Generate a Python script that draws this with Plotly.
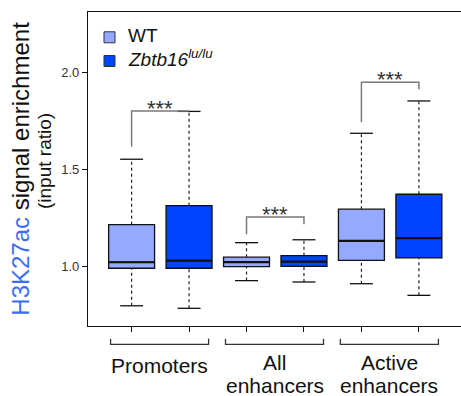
import plotly.graph_objects as go

# ---------------- data ----------------
groups = ["Promoters", "All", "Active"]
group_line2 = ["", "enhancers", "enhancers"]
genotypes = ["WT", "<i>Zbtb16<sup>lu/lu</sup></i>"]

wt_lo = [0.796, 0.926, 0.910]
wt_q1 = [0.990, 0.998, 1.031]
wt_med = [1.021, 1.022, 1.131]
wt_q3 = [1.215, 1.047, 1.295]
wt_hi = [1.553, 1.122, 1.687]

ko_lo = [0.783, 0.919, 0.850]
ko_q1 = [0.990, 1.000, 1.043]
ko_med = [1.029, 1.024, 1.146]
ko_q3 = [1.313, 1.055, 1.372]
ko_hi = [1.800, 1.137, 1.854]

# significance brackets: left leg bottom, bar height, right leg bottom
sig_left = [1.617, 1.165, 1.744]
sig_bar = [1.802, 1.255, 1.951]
sig_right = [1.802, 1.217, 1.915]
sig_text = ["***", "***", "***"]
sig_text_y = [1.815, 1.266, 1.966]

y_tick_vals = [1.0, 1.5, 2.0]
y_tick_text = ["1.0", "1.5", "2.0"]

# ---------------- style ----------------
FONT = "Liberation Sans, Arial, Helvetica, sans-serif"
WT_COLOR = "#94A9FF"
KO_COLOR = "#0044FF"
TITLE_BLUE = "#3D6DF5"
W, H = 461, 396
ML, MR, MT, MB = 88, 0, 12, 70
PW, PH = W - ML - MR, H - MT - MB


def px_x(p):
    return (p - ML) / PW


def px_y(p):
    return (H - MB - p) / PH


fig = go.Figure()

series = [
    (genotypes[0], WT_COLOR, wt_lo, wt_q1, wt_med, wt_q3, wt_hi, 0),
    (genotypes[1], KO_COLOR, ko_lo, ko_q1, ko_med, ko_q3, ko_hi, 1),
]

BOX_W = 0.8
CAP_HALF = 0.2

for name, col, lo, q1, med, q3, hi, off in series:
    xs = [2 * i + off for i in range(len(groups))]
    # dashed whiskers
    wx, wy = [], []
    for x, a, b, c, d in zip(xs, lo, q1, q3, hi):
        wx += [x, x, None, x, x, None]
        wy += [a, b, None, c, d, None]
    fig.add_trace(go.Scatter(x=wx, y=wy, mode="lines", showlegend=False,
                             line=dict(color="#222222", width=1.2, dash="3px,3px"),
                             hoverinfo="skip"))
    # caps
    cx, cy = [], []
    for x, a, d in zip(xs, lo, hi):
        cx += [x - CAP_HALF, x + CAP_HALF, None, x - CAP_HALF, x + CAP_HALF, None]
        cy += [a, a, None, d, d, None]
    fig.add_trace(go.Scatter(x=cx, y=cy, mode="lines", showlegend=False,
                             line=dict(color="#111111", width=1.3),
                             hoverinfo="skip"))
    # boxes
    fig.add_trace(go.Box(
        x=xs, q1=q1, median=med, q3=q3, lowerfence=q1, upperfence=q3,
        width=BOX_W, whiskerwidth=0, fillcolor=col,
        line=dict(color="#111111", width=1.3), name=name, showlegend=False,
        boxpoints=False,
    ))
    # thicker medians
    mx, my = [], []
    for x, m in zip(xs, med):
        mx += [x - BOX_W / 2, x + BOX_W / 2, None]
        my += [m, m, None]
    fig.add_trace(go.Scatter(x=mx, y=my, mode="lines", showlegend=False,
                             line=dict(color="#111111", width=2.2),
                             hoverinfo="skip"))

# significance brackets
for i in range(len(groups)):
    x0, x1 = 2 * i, 2 * i + 1
    fig.add_trace(go.Scatter(
        x=[x0, x0, x1, x1], y=[sig_left[i], sig_bar[i], sig_bar[i], sig_right[i]],
        mode="lines", showlegend=False, line=dict(color="#7A7A7A", width=1.5),
        hoverinfo="skip"))
    fig.add_annotation(x=(x0 + x1) / 2, y=sig_text_y[i], text=sig_text[i],
                       showarrow=False, xanchor="center", yanchor="middle",
                       font=dict(family=FONT, size=22, color="#333333"))

annotations = []
shapes = []

# group brackets and labels below the axis
y_bar = px_y(344.3)
y_leg = px_y(338.7)
for i in range(len(groups)):
    c = 2 * i + 0.5 - 0.013
    x0, x1 = c - 0.853, c + 0.853
    shapes.append(dict(type="path", xref="x", yref="paper",
                       path=f"M {x0},{y_leg} L {x0},{y_bar} L {x1},{y_bar} L {x1},{y_leg}",
                       line=dict(color="#333333", width=1.3)))
    if group_line2[i]:
        annotations.append(dict(x=c, y=px_y(362.7), xref="x", yref="paper",
                                text=groups[i], showarrow=False,
                                xanchor="center", yanchor="middle",
                                font=dict(family=FONT, size=21, color="#111111")))
        annotations.append(dict(x=c, y=px_y(385.4), xref="x", yref="paper",
                                text=group_line2[i], showarrow=False,
                                xanchor="center", yanchor="middle",
                                font=dict(family=FONT, size=21, color="#111111")))
    else:
        annotations.append(dict(x=c, y=px_y(365.4), xref="x", yref="paper",
                                text=groups[i], showarrow=False,
                                xanchor="center", yanchor="middle",
                                font=dict(family=FONT, size=21, color="#111111")))

# y-axis titles
annotations.append(dict(x=px_x(19.7), y=px_y(169), xref="paper", yref="paper",
                        text=f"<span style='color:{TITLE_BLUE}'>H3K27ac</span> signal enrichment",
                        textangle=-90, showarrow=False, xanchor="center", yanchor="middle",
                        font=dict(family=FONT, size=24, color="#111111")))
annotations.append(dict(x=px_x(44), y=px_y(161), xref="paper", yref="paper",
                        text="(input ratio)",
                        textangle=-90, showarrow=False, xanchor="center", yanchor="middle",
                        font=dict(family=FONT, size=19, color="#111111")))

# legend (manual)
leg_rows = [(37.3, WT_COLOR, genotypes[0]), (61.0, KO_COLOR, genotypes[1])]
for cy, col, label in leg_rows:
    shapes.append(dict(type="rect", xref="paper", yref="paper",
                       x0=px_x(104), x1=px_x(115), y0=px_y(cy - 5.5), y1=px_y(cy + 5.5),
                       fillcolor=col, line=dict(color="#333333", width=1)))
    annotations.append(dict(x=px_x(126), y=px_y(cy + 10.5), xref="paper", yref="paper",
                            text=label, showarrow=False, xanchor="left", yanchor="bottom",
                            font=dict(family=FONT, size=19, color="#111111")))

fig.update_layout(
    width=W, height=H,
    margin=dict(l=ML, r=MR, t=MT, b=MB, pad=0),
    paper_bgcolor="white", plot_bgcolor="white",
    boxmode="overlay",
    showlegend=False,
    annotations=list(fig.layout.annotations) + annotations,
    shapes=shapes,
    xaxis=dict(range=[-0.759, 5.733], tickvals=list(range(6)),
               showticklabels=False,
               ticks="outside", ticklen=5, tickwidth=1.2, tickcolor="#111111",
               showline=True, linecolor="#111111", linewidth=1.3, mirror=True,
               showgrid=False, zeroline=False, fixedrange=True),
    yaxis=dict(range=[0.6916, 2.3135], tickvals=y_tick_vals, ticktext=y_tick_text,
               ticks="outside", ticklen=5, tickwidth=1.2, tickcolor="#111111",
               tickfont=dict(family=FONT, size=13, color="#333333"),
               showline=True, linecolor="#111111", linewidth=1.3, mirror=False,
               showgrid=False, zeroline=False, fixedrange=True),
)

fig.write_html("out.html", config={"displayModeBar": False},
               post_script="document.body.style.margin='0';document.body.style.overflow='hidden';")
